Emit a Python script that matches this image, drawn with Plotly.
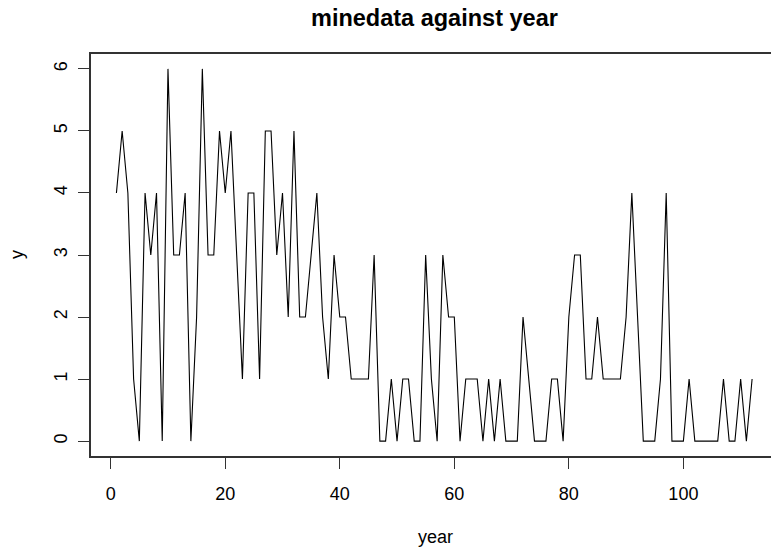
import plotly.graph_objects as go

year = list(range(1, 113))
minedata = [4, 5, 4, 1, 0, 4, 3, 4, 0, 6, 3, 3, 4, 0, 2, 6, 3, 3, 5, 4, 5, 3, 1, 4, 4, 1, 5, 5, 3, 4,
            2, 5, 2, 2, 3, 4, 2, 1, 3, 2, 2, 1, 1, 1, 1, 3, 0, 0, 1, 0, 1, 1, 0, 0, 3, 1, 0, 3, 2, 2,
            0, 1, 1, 1, 0, 1, 0, 1, 0, 0, 0, 2, 1, 0, 0, 0, 1, 1, 0, 2, 3, 3, 1, 1, 2, 1, 1, 1, 1, 2,
            4, 2, 0, 0, 0, 1, 4, 0, 0, 0, 1, 0, 0, 0, 0, 0, 1, 0, 0, 1, 0, 1]
x_ticks = [0, 20, 40, 60, 80, 100]
y_ticks = [0, 1, 2, 3, 4, 5, 6]

W, H = 771, 553
L, R, T, B = 91, 0, 54, 97

fig = go.Figure(go.Scatter(x=year, y=minedata, mode="lines",
                           line=dict(color="black", width=1.1), hoverinfo="skip"))

font = dict(family="Liberation Sans, Arial, sans-serif", color="black", size=18)

fig.update_layout(
    width=W, height=H,
    margin=dict(l=L, r=R, t=T, b=B),
    plot_bgcolor="white", paper_bgcolor="white",
    showlegend=False,
    font=font,
    xaxis=dict(range=[-3.44, 115.3], tickvals=x_ticks, ticks="outside", ticklen=11,
               tickwidth=1.2, tickcolor="#333", showline=True, linecolor="#333", linewidth=1.5,
               mirror=True, showgrid=False, zeroline=False, ticklabelstandoff=10,
               tickfont=font, automargin=False),
    yaxis=dict(range=[-0.24, 6.24], tickvals=y_ticks, ticks="outside", ticklen=11,
               tickwidth=1.2, tickcolor="#333", showline=True, linecolor="#333", linewidth=1.5,
               mirror=False, showgrid=False, zeroline=False, tickangle=-90,
               ticklabelstandoff=4, tickfont=font, automargin=False),
    annotations=[
        dict(text="<b>minedata against year</b>", xref="paper", yref="paper",
             x=(434 - L) / (W - L - R), y=1 + (T - 18) / (H - T - B),
             xanchor="center", yanchor="middle", showarrow=False,
             font=dict(family="Liberation Sans, Arial, sans-serif", size=23.5, color="black")),
        dict(text="year", xref="paper", yref="paper",
             x=(435 - L) / (W - L - R), y=-(537 - (H - B)) / (H - T - B),
             xanchor="center", yanchor="middle", showarrow=False, font=font),
        dict(text="y", xref="paper", yref="paper",
             x=-(L - 17) / (W - L - R), y=0.5, textangle=-90,
             xanchor="center", yanchor="middle", showarrow=False, font=font),
    ],
)

fig.write_html("out.html", config={"displayModeBar": False},
               post_script="document.body.style.margin='0';document.body.style.padding='0';")
